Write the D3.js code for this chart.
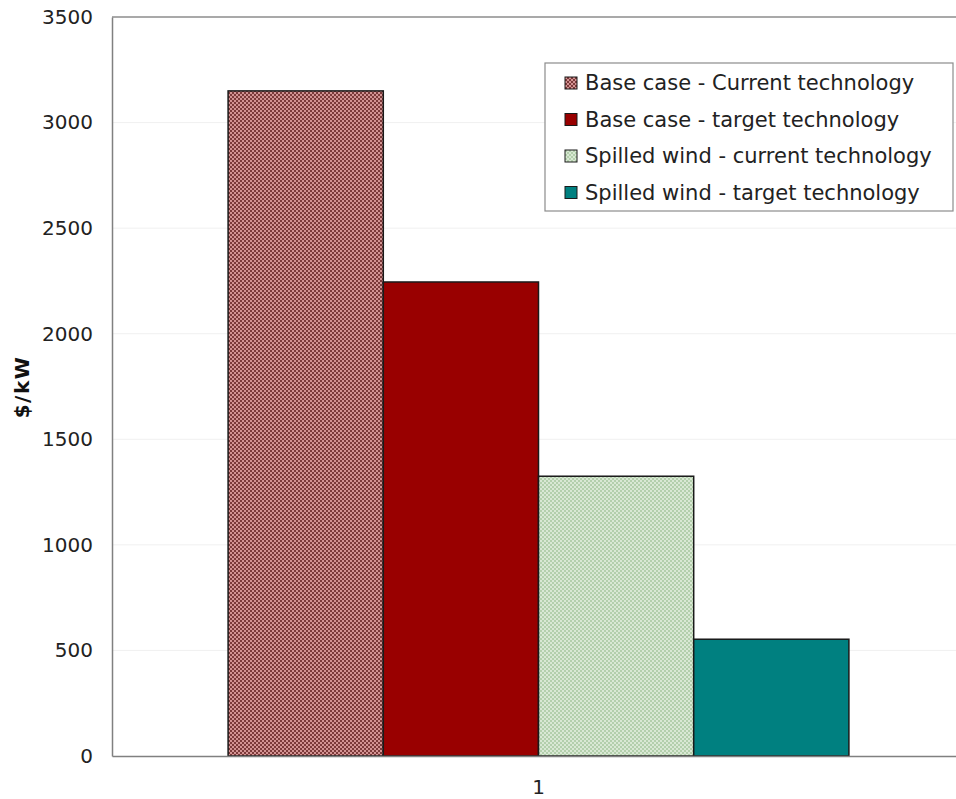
<!DOCTYPE html>
<html>
<head>
<meta charset="utf-8">
<script src="https://cdn.jsdelivr.net/npm/d3@7"></script>
<style>
body { margin: 0; background: #fff; }
svg { display: block; font-family: "DejaVu Sans", Verdana, sans-serif; }
</style>
</head>
<body>
<svg id="chart" width="956" height="799"></svg>
<script>
// data
var categories = ["1"];
var seriesNames = [
	"Base case - Current technology",
	"Base case - target technology",
	"Spilled wind - current technology",
	"Spilled wind - target technology"
];
var seriesValues = [3150, 2245, 1325, 553];
var yTicks = [0, 500, 1000, 1500, 2000, 2500, 3000, 3500];

var svg = d3.select("#chart");
var plotLeft = 112, plotRight = 965, plotTop = 17, plotBottom = 756;

// patterns for the hatched bars
var defs = svg.append("defs");
var p1 = defs.append("pattern").attr("id", "pinkDots")
	.attr("width", 4).attr("height", 4).attr("patternUnits", "userSpaceOnUse");
p1.append("rect").attr("width", 4).attr("height", 4).attr("fill", "#d39393");
p1.append("rect").attr("x", 0).attr("y", 0).attr("width", 2).attr("height", 2).attr("fill", "#7c3a3a");
p1.append("rect").attr("x", 2).attr("y", 2).attr("width", 2).attr("height", 2).attr("fill", "#7c3a3a");

var p2 = defs.append("pattern").attr("id", "greenDots")
	.attr("width", 4).attr("height", 4).attr("patternUnits", "userSpaceOnUse");
p2.append("rect").attr("width", 4).attr("height", 4).attr("fill", "#b3cfac");
p2.append("rect").attr("x", 0).attr("y", 0).attr("width", 2).attr("height", 2).attr("fill", "#d9e8d4");
p2.append("rect").attr("x", 2).attr("y", 2).attr("width", 2).attr("height", 2).attr("fill", "#d9e8d4");

var fills = ["url(#pinkDots)", "#990000", "url(#greenDots)", "#008080"];

// scales
var y = d3.scaleLinear().domain([0, 3500]).range([plotBottom, plotTop]);
var x0 = d3.scaleBand().domain(categories).range([plotLeft, plotRight]).paddingInner(0).paddingOuter(0.187);
var x1 = d3.scaleBand().domain(seriesNames).range([0, x0.bandwidth()]);

// faint gridlines
svg.append("g")
	.selectAll("line")
	.data(yTicks.slice(1, -1))
	.enter()
	.append("line")
	.attr("x1", plotLeft).attr("x2", 956)
	.attr("y1", function(d) { return y(d); })
	.attr("y2", function(d) { return y(d); })
	.style("stroke", "#f0f0f0");

// top border of plot
svg.append("line")
	.attr("x1", plotLeft).attr("x2", 956)
	.attr("y1", plotTop).attr("y2", plotTop)
	.style("stroke", "#8c8c8c").attr("stroke-width", 1.5);

// bars
svg.append("g")
	.selectAll("rect")
	.data(seriesValues)
	.enter()
	.append("rect")
	.attr("x", function(d, i) { return x0(categories[0]) + x1(seriesNames[i]); })
	.attr("y", function(d) { return y(d); })
	.attr("width", x1.bandwidth())
	.attr("height", function(d) { return plotBottom - y(d); })
	.attr("fill", function(d, i) { return fills[i]; })
	.attr("stroke", "#1a1a1a")
	.attr("stroke-width", 1.5);

// y axis
var yAxis = d3.axisLeft(y).tickValues(yTicks).tickFormat(d3.format("d")).tickSize(0).tickPadding(19);
var gy = svg.append("g").attr("transform", "translate(" + plotLeft + ",0)").call(yAxis);
gy.select(".domain").attr("stroke", "#808080").attr("stroke-width", 1.5);
gy.selectAll("text").attr("font-size", 20).attr("fill", "#222")
	.attr("font-family", "DejaVu Sans, Verdana, sans-serif");

// x axis
var xAxis = d3.axisBottom(x0).tickSize(0).tickPadding(24);
var gx = svg.append("g").attr("transform", "translate(0," + plotBottom + ")").call(xAxis);
gx.select(".domain").attr("stroke", "#808080").attr("stroke-width", 1.5);
gx.selectAll("text").attr("font-size", 20).attr("fill", "#222")
	.attr("font-family", "DejaVu Sans, Verdana, sans-serif");

// y label
svg.append("text")
	.attr("transform", "translate(29,387) rotate(-90)")
	.attr("text-anchor", "middle")
	.attr("font-size", 20)
	.attr("font-weight", "bold")
	.attr("letter-spacing", 1.5)
	.attr("fill", "#111")
	.text("$/kW");

// legend
var legend = svg.append("g").attr("transform", "translate(545,63)");
legend.append("rect")
	.attr("width", 408).attr("height", 148)
	.attr("fill", "#fff").attr("stroke", "#8c8c8c").attr("stroke-width", 1.2);
var items = legend.selectAll("g.item")
	.data(seriesNames)
	.enter()
	.append("g")
	.attr("class", "item")
	.attr("transform", function(d, i) { return "translate(20," + (20 + i * 36.5) + ")"; });
items.append("rect")
	.attr("x", 0).attr("y", -6).attr("width", 12).attr("height", 12)
	.attr("fill", function(d, i) { return fills[i]; })
	.attr("stroke", "#1a1a1a").attr("stroke-width", 1);
items.append("text")
	.attr("x", 20).attr("y", 0).attr("dy", "0.35em")
	.attr("font-size", 21).attr("fill", "#222")
	.text(function(d) { return d; });
</script>
</body>
</html>
